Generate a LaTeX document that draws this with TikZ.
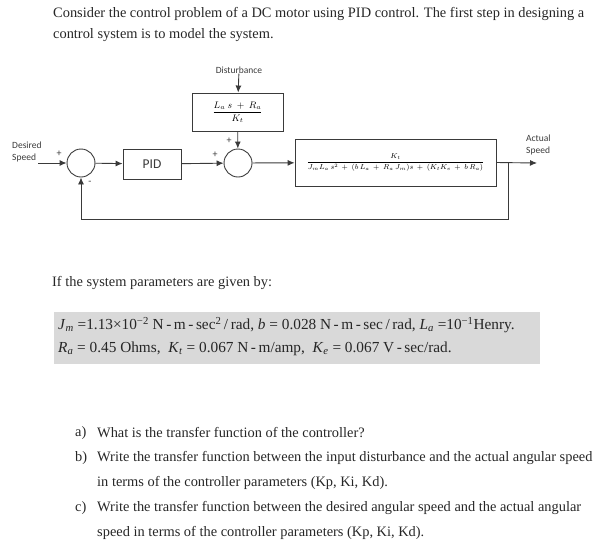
\RequirePackage{fix-cm}
\documentclass[tikz,border=0pt]{standalone}
\usepackage{fontspec}
\setmainfont{Liberation Serif}
\newfontfamily\diagfont{Carlito}
\usetikzlibrary{arrows.meta}
\definecolor{ln}{HTML}{3A3A3A}
\definecolor{graybox}{HTML}{D9D9D9}
\tikzset{
  body/.style={anchor=west, inner sep=0pt, font=\fontsize{14.4}{16}\selectfont, text=black!85},
  gbody/.style={anchor=west, inner sep=0pt, font=\fontsize{15.3}{17}\selectfont, text=black!85},
  lab/.style={inner sep=0pt, font=\diagfont\fontsize{9.5}{11.5}\selectfont, text=ln},
  sgn/.style={inner sep=0pt, font=\diagfont\fontsize{10}{10}\selectfont, text=ln},
  blk/.style={draw=ln, line width=0.9pt, inner sep=0pt},
  circ/.style={draw=ln, line width=0.9pt, circle, minimum size=28pt, inner sep=0pt},
  wire/.style={draw=ln, line width=0.9pt},
  arr/.style={wire, -{Latex[length=7pt,width=6pt]}},
}
\begin{document}
\begin{tikzpicture}[x=1pt,y=-1pt]
\useasboundingbox (0,0) rectangle (612,552);
% heading
\node[body] (h1) at (53,14) {Consider the control problem of a DC motor using PID control. The first step in designing a};
\node[body] (h2) at (53,35) {control system is to model the system.};
% diagram
\node[lab] (dist) at (239,70) {Disturbance};
\node[blk, minimum width=91pt, minimum height=38pt, font=\fontsize{9.5}{11}\selectfont] (dbox) at (237.5,112) {$\displaystyle\frac{L_a\ s\ +\ R_a}{K_t}$};
\node[circ] (s1) at (81,163) {};
\node[circ] (s2) at (238,163) {};
\node[blk, minimum width=58pt, minimum height=30pt, font=\diagfont\fontsize{13.5}{15}\selectfont, text=ln] (pid) at (152,164) {PID};
\node[blk, minimum width=201pt, minimum height=47pt, font=\fontsize{7.2}{9}\selectfont] (plant) at (395.5,162.5) {$\displaystyle\frac{K_t}{J_m L_a\, s^2\, +\ (b\,L_a\, +\ R_a\, J_m)s\, +\ (K_t K_e\, +\ b\,R_a)}$};
\node[lab, align=left, anchor=west] (des) at (12,152) {Desired\\Speed};
\node[lab, align=left, anchor=west] (act) at (526,145) {Actual\\Speed};
\coordinate (in) at (38,163);
\coordinate (br) at (508,163);
\coordinate (out) at (537,163);
\coordinate (fbr) at (508,219);
\coordinate (fbl) at (81,219);
\draw[arr] (in) -- (s1);
\draw[arr] (s1) -- (pid);
\draw[arr] (pid) -- (s2);
\draw[arr] (s2) -- (plant);
\draw[arr] (plant.east) -- (out);
\draw[arr] (dist) -- (dbox);
\draw[arr] (dbox) -- (s2);
\draw[arr] (br) -- (fbr) -- (fbl) -- (s1);
\node[sgn] (p1) at (59,154) {+};
\node[sgn] (m1) at (90,183) {-};
\node[sgn] (p2) at (215,155) {+};
\node[sgn] (p3) at (229,141) {+};
% parameters
\node[body] (ifp) at (52,283) {If the system parameters are given by:};
\fill[graybox] (54,312) rectangle (540,364);
\node[gbody] (par1) at (58,325) {\textit{J}\textsubscript{\textit{m}} =1.13×10\textsuperscript{−2} N\,-\,m\,-\,sec\textsuperscript{2}\,/\,rad, \textit{b} = 0.028 N\,-\,m\,-\,sec\,/\,rad, \textit{L}\textsubscript{\textit{a}} =10\textsuperscript{−1}Henry.};
\node[gbody] (par2) at (58,349) {\textit{R}\textsubscript{\textit{a}} = 0.45 Ohms,\ \ \textit{K}\textsubscript{\textit{t}} = 0.067 N\,-\,m/amp,\ \ \textit{K}\textsubscript{\textit{e}} = 0.067 V\,-\,sec/rad.};
% questions
\node[body] (qa) at (75,433) {a)};
\node[body] (ta) at (97,433) {What is the transfer function of the controller?};
\node[body] (qb) at (75,458) {b)};
\node[body] (tb) at (97,458) {Write the transfer function between the input disturbance and the actual angular speed};
\node[body] (tb2) at (97,483) {in terms of the controller parameters (Kp, Ki, Kd).};
\node[body] (qc) at (75,508) {c)};
\node[body] (tc) at (97,508) {Write the transfer function between the desired angular speed and the actual angular};
\node[body] (tc2) at (97,533) {speed in terms of the controller parameters (Kp, Ki, Kd).};
\end{tikzpicture}
\end{document}
